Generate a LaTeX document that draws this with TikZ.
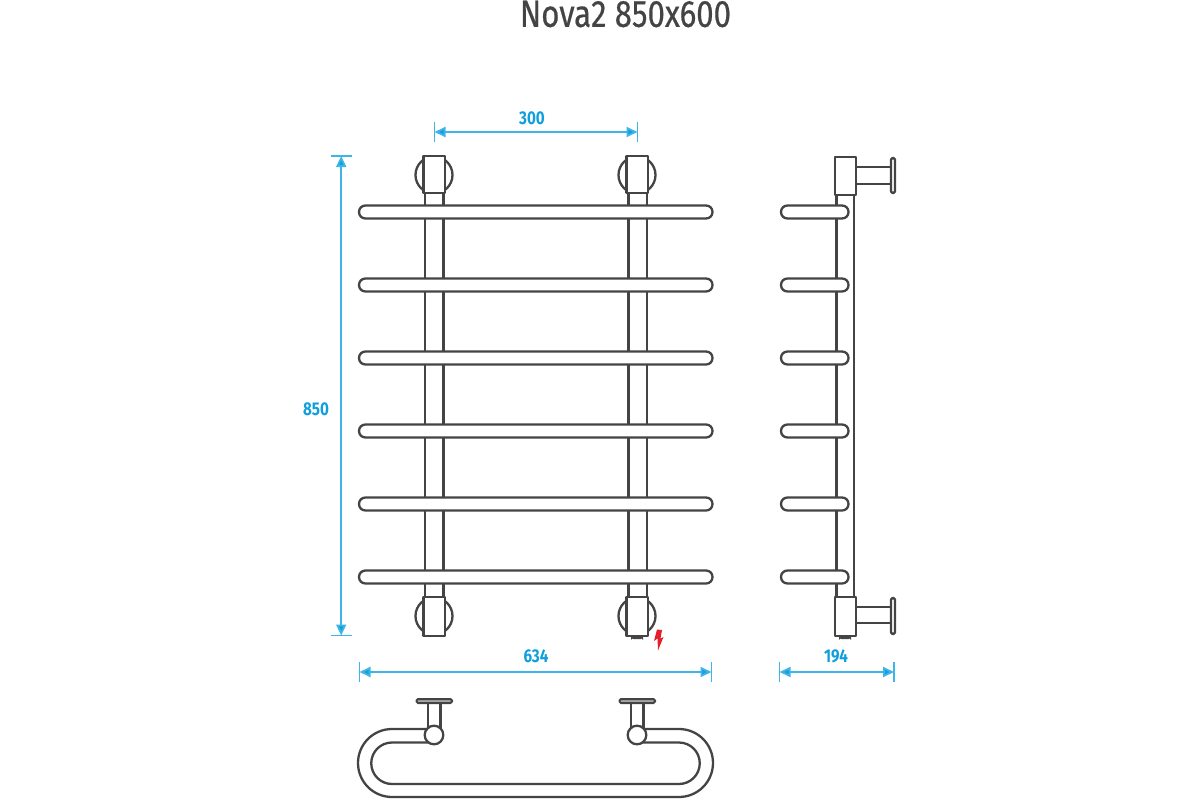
\documentclass[tikz,border=0pt]{standalone}
\usepackage{fontspec}
\setmainfont{Fira Sans}
\newfontfamily\condfont[FakeStretch=0.82,FakeBold=0.5]{Fira Sans}
\newfontfamily\condbold[FakeStretch=0.82]{Fira Sans Bold}
\usetikzlibrary{arrows.meta}
\definecolor{tubeline}{HTML}{444444}
\definecolor{dimline}{HTML}{3DB5E8}
\definecolor{dimtext}{HTML}{109FDC}
\definecolor{boltred}{HTML}{E2202C}
\begin{document}
\begin{tikzpicture}[x=1pt,y=-1pt]

\tikzset{tube/.style={draw=tubeline, line width=2.3, fill=white, line join=round}}
\tikzset{rail/.style={tube, rounded corners=6.4}}
\tikzset{plate/.style={draw=tubeline, line width=2, fill=gray!70, rounded corners=1.5}}
\tikzset{dim/.style={draw=dimline, line width=1.8, {Triangle[length=11,width=10,fill=dimtext]}-{Triangle[length=11,width=10,fill=dimtext]}}}
\tikzset{tick/.style={draw=dimline, line width=1.4}}
\tikzset{dimlabel/.style={text=dimtext, font=\condbold\fontsize{18.5}{18.5}\selectfont, inner sep=0}}
\useasboundingbox (0,0) rectangle (1200,800);

\node[text=tubeline, font=\condfont\fontsize{38}{38}\selectfont, inner sep=0] (title) at (625.5,14) {Nova2 850x600};

% front view
\draw[tube] (434,175) circle (18.5);
\draw[tube] (637,175) circle (18.5);
\draw[tube] (434,616) circle (18.5);
\draw[tube] (637,616) circle (18.5);
\draw[tube] (425,190) rectangle (443.5,600);
\draw[tube] (628.5,190) rectangle (647,600);
\draw[tube] (423.5,156) rectangle (445,193);
\draw[tube] (626.5,156) rectangle (648,193);
\draw[tube] (423.5,597) rectangle (445,636);
\draw[plate] (632,636) rectangle (642,638);
\draw[tube] (626.5,597) rectangle (648,636);
\draw[rail] (359,205.5) rectangle (712.5,218.5);
\draw[rail] (359,278.5) rectangle (712.5,291.5);
\draw[rail] (359,351.5) rectangle (712.5,364.5);
\draw[rail] (359,424.5) rectangle (712.5,437.5);
\draw[rail] (359,497.5) rectangle (712.5,510.5);
\draw[rail] (359,570.5) rectangle (712.5,583.5);
\fill[boltred] (657,629.5) -- (654,641) -- (657.5,638.5) -- (658,650.5) -- (663.5,637) -- (660.5,638.5) -- (662,630) -- cycle;

% side view
\draw[tube] (836.5,190) rectangle (854,600);
\draw[tube] (856,167) rectangle (891,184);
\draw[tube] (856,607) rectangle (891,623);
\draw[tube, rounded corners=1.5] (891,158) rectangle (895,193);
\draw[tube, rounded corners=1.5] (891,598) rectangle (895,634);
\draw[tube] (835,157) rectangle (856,195);
\draw[plate] (840,636) rectangle (850,638);
\draw[tube] (835,597) rectangle (856,636);
\draw[rail] (781,205.5) rectangle (848.5,218.5);
\draw[rail] (781,278.5) rectangle (848.5,291.5);
\draw[rail] (781,351.5) rectangle (848.5,364.5);
\draw[rail] (781,424.5) rectangle (848.5,437.5);
\draw[rail] (781,497.5) rectangle (848.5,510.5);
\draw[rail] (781,570.5) rectangle (848.5,583.5);

% top view
\draw[tube] (428,702) rectangle (440.5,728);
\draw[tube] (631,702) rectangle (643.5,728);
\draw[plate] (416.5,699) rectangle (452,703);
\draw[plate] (619.5,699) rectangle (655,703);
\draw[tube] (434,729) -- (392,729) arc[start angle=270, end angle=90, radius=34] -- (679,797) arc[start angle=90, end angle=-90, radius=34] -- (637,729) -- (637,742.5) -- (679,742.5) arc[start angle=270, end angle=450, radius=20.75] -- (392,784) arc[start angle=90, end angle=270, radius=20.75] -- (434,742.5) -- cycle;
\draw[tube] (434,735) circle (9.3);
\draw[tube] (637,735) circle (9.3);

% dimensions
\coordinate (w1) at (434.5,132);
\coordinate (w2) at (637.5,132);
\coordinate (h1) at (341.2,156);
\coordinate (h2) at (341.2,635.5);
\coordinate (b1) at (359.5,672);
\coordinate (b2) at (711.5,672);
\coordinate (s1) at (779.5,672);
\coordinate (s2) at (894,672);
\draw[dim] (w1) -- (w2);
\draw[dim] (h1) -- (h2);
\draw[dim] (b1) -- (b2);
\draw[dim] (s1) -- (s2);
\draw[tick] (434.5,122) -- (434.5,142);
\draw[tick] (637.5,122) -- (637.5,142);
\draw[tick] (331,156) -- (352,156);
\draw[tick] (331,635.5) -- (352,635.5);
\draw[tick] (359.5,662) -- (359.5,682);
\draw[tick] (711.5,662) -- (711.5,682);
\draw[tick] (779.5,662) -- (779.5,682);
\draw[tick] (894,662) -- (894,682);
\node[dimlabel] (l300) at (532,118.5) {300};
\node[dimlabel] (l850) at (316,409) {850};
\node[dimlabel] (l634) at (536,656.5) {634};
\node[dimlabel] (l194) at (836,656.5) {194};

\end{tikzpicture}
\end{document}
